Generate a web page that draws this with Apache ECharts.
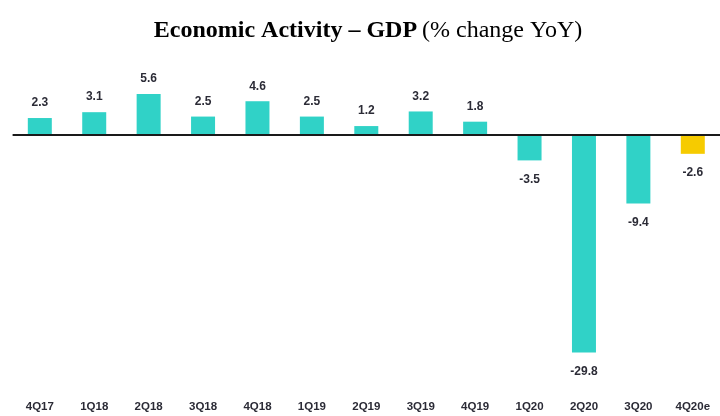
<!DOCTYPE html>
<html>
<head>
<meta charset="utf-8">
<script src="https://cdn.jsdelivr.net/npm/echarts@6/dist/echarts.min.js"></script>
<style>
html,body{margin:0;padding:0;background:#fff;}
#chart{width:720px;height:416px;}
</style>
</head>
<body>
<div id="chart"></div>
<script>
const categories = ['4Q17','1Q18','2Q18','3Q18','4Q18','1Q19','2Q19','3Q19','4Q19','1Q20','2Q20','3Q20','4Q20e'];
const gdpValues = [2.3, 3.1, 5.6, 2.5, 4.6, 2.5, 1.2, 3.2, 1.8, -3.5, -29.8, -9.4, -2.6];
const estimateFlags = [false,false,false,false,false,false,false,false,false,false,false,false,true];

const TEAL = '#30D2C7';
const YELLOW = '#F6CB00';
const LABEL_COLOR = '#2b2b36';

const chart = echarts.init(document.getElementById('chart'), null, {renderer:'canvas'});

const data = gdpValues.map((v, i) => ({
  value: v,
  itemStyle: { color: estimateFlags[i] ? YELLOW : TEAL },
  label: {
    position: v >= 0 ? 'top' : 'bottom',
    distance: v >= 0 ? 9 : 13
  }
}));

chart.setOption({
  animation: false,
  title: {
    text: '{b|Economic Activity – GDP} {n|(% change YoY)}',
    left: 363,
    textAlign: 'center',
    top: 14,
    textStyle: {
      rich: {
        b: { fontFamily: 'Liberation Serif', fontWeight: 'bold', fontSize: 24, color: '#000' },
        n: { fontFamily: 'Liberation Serif', fontWeight: 'normal', fontSize: 24, color: '#000' }
      }
    }
  },
  grid: { left: 12.6, top: 91, width: 713.4, height: 263, containLabel: false },
  xAxis: {
    type: 'category',
    data: categories,
    axisLine: { show: false, onZero: false },
    axisTick: { show: false },
    axisLabel: {
      margin: 47,
      interval: 0,
      fontFamily: 'Liberation Sans',
      fontWeight: 'bold',
      fontSize: 11.5,
      color: LABEL_COLOR
    },
    splitLine: { show: false }
  },
  yAxis: {
    type: 'value',
    min: -30,
    max: 6,
    show: false,
    splitLine: { show: false }
  },
  series: [{
    type: 'bar',
    data: data,
    barWidth: 24,
    label: {
      show: true,
      fontFamily: 'Liberation Sans',
      fontWeight: 'bold',
      fontSize: 12,
      color: LABEL_COLOR,
      formatter: p => p.value.toFixed(1)
    },
    markLine: {
      silent: true,
      symbol: 'none',
      label: { show: false },
      lineStyle: { color: '#1a1a1a', width: 2, type: 'solid' },
      data: [{ yAxis: 0 }]
    }
  }]
});
</script>
</body>
</html>
